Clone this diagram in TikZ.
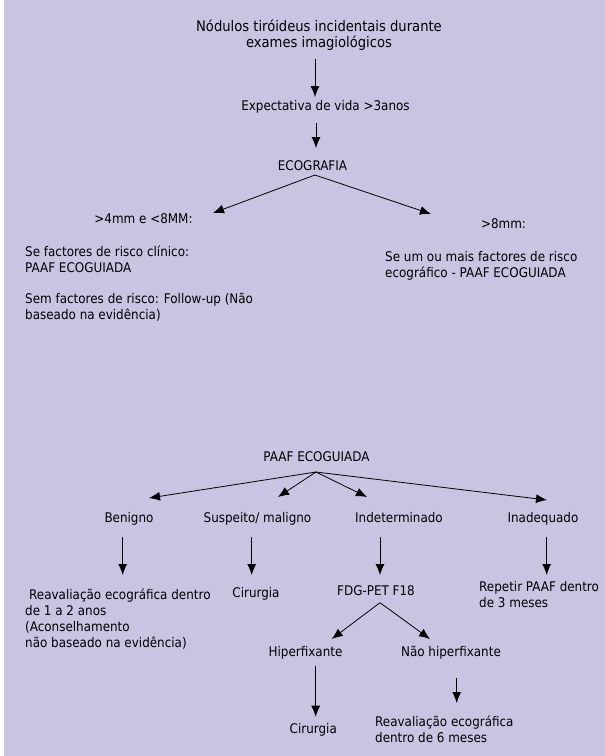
\documentclass[tikz,border=0pt]{standalone}
\usepackage{fontspec}
\newfontfamily\tahfont{DejaVu Sans Condensed}
\usetikzlibrary{arrows.meta}
\definecolor{lavbg}{RGB}{200,196,226}
\begin{document}
\begin{tikzpicture}[x=1pt,y=-1pt]
        \tikzstyle{lbl} = [inner sep=0pt, text=black, anchor=base, font=\tahfont\fontsize{13.3}{16}\selectfont]
        \tikzstyle{para} = [lbl, align=left, anchor=base west]
        \tikzstyle{line} = [-{Latex[length=11pt,width=9pt]}, draw=black, line width=.8pt]
        \useasboundingbox (0,0) rectangle (605,756);
        \fill[lavbg] (4,0) rectangle (605,756);
        % top part
        \node[lbl, align=center, font=\tahfont\fontsize{14.6}{16.5}\selectfont] (nod) at (319,47.5) {Nódulos tiróideus incidentais durante\\exames imagiológicos};
        \node[lbl] (exp) at (325.5,110) {Expectativa de vida >3anos};
        \node[lbl] (eco) at (312.5,170.5) {ECOGRAFIA};
        \node[lbl] (gt4) at (143.5,223) {>4mm e <8MM:};
        \node[lbl] (gt8) at (503.5,228) {>8mm:};
        \node[para] (clin) at (25,272) {Se factores de risco clínico:\\PAAF ECOGUIADA};
        \node[para] (sem) at (25,319) {Sem factores de risco: Follow-up (Não\\baseado na evidência)};
        \node[para] (eco8) at (385,277) {Se um ou mais factores de risco\\ecográfico - PAAF ECOGUIADA};
        % bottom part
        \node[lbl] (paaf) at (316.5,461) {PAAF ECOGUIADA};
        \node[lbl] (ben) at (129,522) {Benigno};
        \node[lbl] (susp) at (257.5,522) {Suspeito/ maligno};
        \node[lbl] (ind) at (399,522) {Indeterminado};
        \node[lbl] (inad) at (543,522) {Inadequado};
        \node[para] (reav1) at (25,647) {\hspace*{4pt}Reavaliação ecográfica dentro\\de 1 a 2 anos\\(Aconselhamento\\não baseado na evidência)};
        \node[lbl] (cir1) at (256,597) {Cirurgia};
        \node[lbl] (fdg) at (376,595) {FDG-PET F18};
        \node[para] (rep) at (479,607) {Repetir PAAF dentro\\de 3 meses};
        \node[lbl] (hip) at (305.5,656) {Hiperfixante};
        \node[lbl] (nao) at (451,656) {Não hiperfixante};
        \node[lbl] (cir2) at (313.3,733) {Cirurgia};
        \node[para] (reav2) at (375,742) {Reavaliação ecográfica\\dentro de 6 meses};
        % arrows
        \draw[line] ([xshift=-4pt,yshift=-11.5pt]nod.base) to ([xshift=-10.5pt,yshift=13pt]exp.base);
        \draw[line] ([xshift=-9.5pt,yshift=-13pt]exp.base) to ([xshift=3.5pt,yshift=22.5pt]eco.base);
        \draw[line] ([xshift=2.5pt,yshift=-4.5pt]eco.base) to ([xshift=69.5pt,yshift=10pt]gt4.base);
        \draw[line] ([xshift=2.5pt,yshift=-4.5pt]eco.base) to ([xshift=-72.5pt,yshift=14pt]gt8.base);
        \draw[line] ([xshift=-.5pt,yshift=-11pt]paaf.base) to ([xshift=20pt,yshift=24pt]ben.base);
        \draw[line] ([xshift=-.5pt,yshift=-11pt]paaf.base) to ([xshift=20.5pt,yshift=25pt]susp.base);
        \draw[line] ([xshift=-.5pt,yshift=-11pt]paaf.base) to ([xshift=-32pt,yshift=25pt]ind.base);
        \draw[line] ([xshift=-.5pt,yshift=-11pt]paaf.base) to ([xshift=4pt,yshift=22pt]inad.base);
        \draw[line] ([xshift=-6.3pt,yshift=-15pt]ben.base) to ([xshift=97.7pt,yshift=72pt]reav1.base west);
        \draw[line] ([xshift=-5.8pt,yshift=-15pt]susp.base) to ([xshift=-4.3pt,yshift=22pt]cir1.base);
        \draw[line] ([xshift=-19pt,yshift=-15pt]ind.base) to ([xshift=4pt,yshift=20pt]fdg.base);
        \draw[line] ([xshift=3.7pt,yshift=-15pt]inad.base) to ([xshift=67.7pt,yshift=32pt]rep.base west);
        \draw[line] ([xshift=4pt,yshift=-7.7pt]fdg.base) to ([xshift=26.2pt,yshift=17pt]hip.base);
        \draw[line] ([xshift=4pt,yshift=-7.7pt]fdg.base) to ([xshift=-21pt,yshift=17pt]nao.base);
        \draw[line] ([xshift=10.2pt,yshift=-10pt]hip.base) to ([xshift=2.4pt,yshift=16.3pt]cir2.base);
        \draw[line] ([xshift=5.7pt,yshift=-22pt]nao.base) to ([xshift=81.7pt,yshift=39pt]reav2.base west);
\end{tikzpicture}
\end{document}
